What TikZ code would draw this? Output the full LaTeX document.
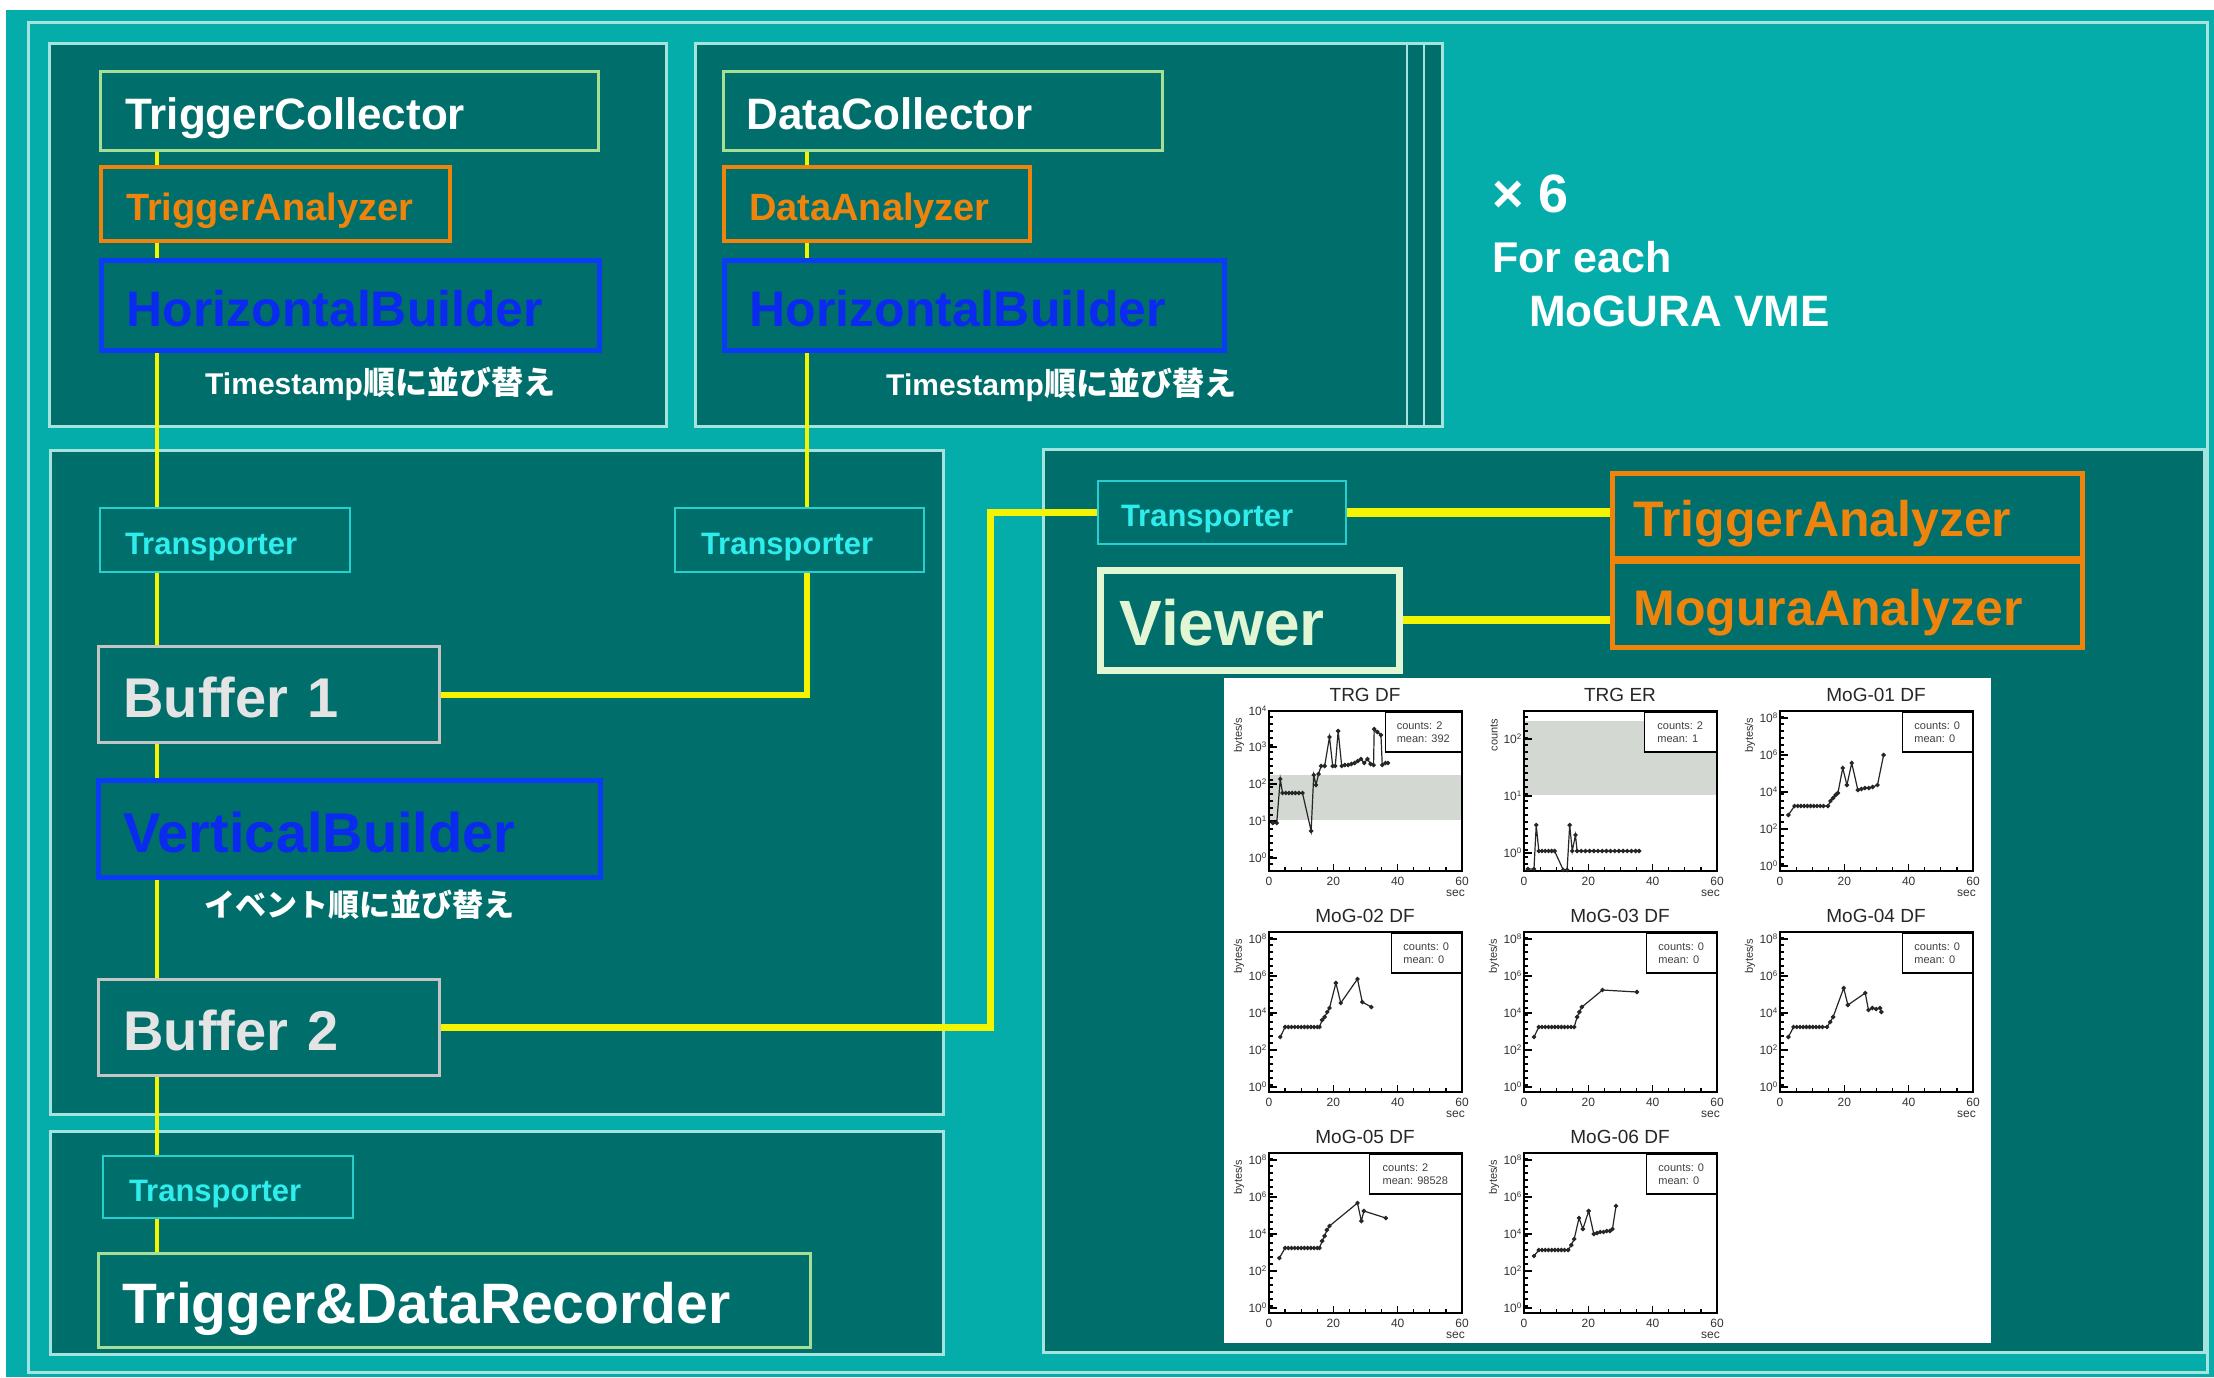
\documentclass[tikz,border=0pt]{standalone}
\usepackage{fontspec}
\setmainfont{Liberation Sans}
\newfontfamily\jp{Noto Sans CJK JP}
\pgfdeclarelayer{bg}
\pgfdeclarelayer{lines}
\pgfsetlayers{bg,lines,main}
\definecolor{bgteal}{HTML}{05ADAA}
\definecolor{panel}{HTML}{006F6B}
\definecolor{pborder}{HTML}{A3E4DF}
\definecolor{ylw}{HTML}{F4F400}
\definecolor{orng}{HTML}{EF840C}
\definecolor{blu}{HTML}{0A3CF5}
\definecolor{bluetxt}{HTML}{0A2BEF}
\definecolor{cyn}{HTML}{2FEDEC}
\definecolor{cynb}{HTML}{27CFCF}
\definecolor{gryb}{HTML}{C4C4C4}
\definecolor{grytxt}{HTML}{E4E4E4}
\definecolor{lgreen}{HTML}{A6DE96}
\definecolor{viewc}{HTML}{E2F6D4}
\definecolor{bandc}{HTML}{D3D8D3}
\tikzset{
  bx/.style={anchor=north west, inner ysep=0pt, align=left, fill=panel, text depth=0pt},
  sz/.style n args={3}{minimum width=#1pt, text width=#2pt, minimum height=#3pt},
  collector/.style={bx, draw=lgreen, line width=2.5pt, text=white, font=\bfseries\fontsize{44}{44}\selectfont, text height=37.5pt},
  anasmall/.style={bx, draw=orng, line width=4pt, text=orng, font=\bfseries\fontsize{38}{38}\selectfont, text height=33pt},
  builder/.style={bx, draw=blu, line width=5pt, text=bluetxt, font=\bfseries\fontsize{50}{50}\selectfont, text height=41.8pt},
  transp/.style={bx, draw=cynb, line width=2pt, text=cyn, font=\bfseries\fontsize{31}{31}\selectfont, text height=28pt},
  buf/.style={bx, draw=gryb, line width=3pt, text=grytxt, font=\bfseries\fontsize{56}{56}\selectfont, text height=46pt},
  viewerbox/.style={bx, draw=viewc, line width=7pt, text=viewc, font=\bfseries\fontsize{64}{64}\selectfont, text height=51.8pt},
  anabig/.style={bx, draw=orng, line width=5pt, text=orng, font=\bfseries\fontsize{50}{50}\selectfont, text height=41.8pt},
  pnl/.style={fill=panel, draw=pborder, line width=3pt},
  yline/.style={draw=ylw, line width=#1pt},
  yline/.default=3.5,
  freetext/.style={anchor=base west, inner sep=0pt, text=white},
  pframe/.style={draw=black, line width=2pt},
  ptick/.style={draw=black, line width=1.2pt},
  ptitle/.style={inner sep=0pt, font=\fontsize{19}{19}\selectfont, text=black!85},
  pstat/.style={anchor=north east, draw=black, line width=1.5pt, fill=white, align=left, font=\fontsize{11}{13}\selectfont, minimum height=40pt, inner xsep=4pt, text=black!75},
  ptk/.style={anchor=east, inner sep=0pt, font=\fontsize{12}{12}\selectfont, text=black!80},
  pxl/.style={anchor=north, inner sep=0pt, font=\fontsize{12}{12}\selectfont, text=black!80},
  pyl/.style={rotate=90, inner sep=0pt, font=\fontsize{11}{11}\selectfont, text=black!80},
  pcurve/.style={draw=black!85, line width=1.2pt},
  pband/.style={fill=bandc},
}
% #1 id, #2 left, #3 top, #4 title, #5 y name, #6 stats, #7 stat width, #8 ticks v/exp
\newcommand\myplot[8]{%
  \draw[pframe] (#2,#3) rectangle ++(193,160);
  \node[ptitle] (#1t) at (#2+96,#3-16) {#4};
  \node[pstat, minimum width=#7pt] (#1s) at (#2+193,#3) {#6};
  \node[pyl] (#1yl) at (#2-30,#3+24) {#5};
  \foreach \vv/\ee [count=\ii] in {#8} {
    \draw[ptick] (#2,#3+160-\vv) -- ++(8,0);
    \node[ptk] (#1y\ii) at (#2-2,#3+160-\vv) {10\textsuperscript{\ee}};
  }
  \foreach \kk in {1,...,22} \draw[ptick] (#2,#3+160-\kk*7) -- ++(4,0);
  \foreach \xx in {0,20,40,60} {
    \draw[ptick] (#2+\xx*3.2167,#3+160) -- ++(0,-7);
    \node[pxl] (#1x\xx) at (#2+\xx*3.2167,#3+166) {\xx};
  }
  \foreach \xx in {5,10,...,55} \draw[ptick] (#2+\xx*3.2167,#3+160) -- ++(0,-4);
  \node[pxl, anchor=north east] (#1sec) at (#2+196,#3+179) {sec};
}
\newcommand\mycurve[3]{%
  \begin{scope}[shift={(#1,#2)}]\begin{scope}[x=3.2167pt,y=1pt]
    \draw[pcurve] plot[mark=*, mark size=1.6pt, mark options={fill=black!85}] coordinates {#3};
  \end{scope}\end{scope}}
\newcommand\myband[4]{%
  \begin{scope}[shift={(#1,#2)}]\begin{scope}[x=3.2167pt,y=1pt]
    \fill[pband] (0,#3) rectangle (60,#4);
  \end{scope}\end{scope}}
\begin{document}
\begin{tikzpicture}[x=1pt,y=-1pt]
\useasboundingbox (0,0) rectangle (2214,1377);
\begin{pgfonlayer}{bg}
  \fill[white] (0,0) rectangle (2214,1377);
  \fill[bgteal] (6,10) rectangle (2214,1377);
  \draw[pnl] (49,43) rectangle (666,426);
  \draw[pnl] (695,43) rectangle (1442,426);
  \draw[draw=pborder, line width=2pt] (1407,43) -- (1407,426);
  \draw[draw=pborder, line width=2pt] (1424,43) -- (1424,426);
  \draw[pnl] (50,450) rectangle (943,1114);
  \draw[pnl] (50,1131) rectangle (943,1354);
  \draw[pnl] (1043,449) rectangle (2204,1352);
  \draw[draw=pborder, line width=3pt] (28,22) rectangle (2207,1372);
\end{pgfonlayer}

% left column
\node[collector, sz={498}{448}{79}, inner xsep=25pt] (tc) at (99,70) {TriggerCollector};
\node[anasmall, sz={349}{299}{74}, inner xsep=25pt] (ta1) at (99,165) {TriggerAnalyzer};
\node[builder, sz={498}{448}{90}, inner xsep=25pt] (hb1) at (99,258) {HorizontalBuilder};
\node[freetext, font=\bfseries\fontsize{30}{30}\selectfont] (ts1) at (205,394) {Timestamp{\jp\fontsize{32}{32}\selectfont 順に並び替え}};
% data column
\node[collector, sz={439}{393}{79}, inner xsep=23pt] (dc) at (722,70) {DataCollector};
\node[anasmall, sz={306}{256}{74}, inner xsep=25pt] (da) at (722,165) {DataAnalyzer};
\node[builder, sz={500}{450}{90}, inner xsep=25pt] (hb2) at (722,258) {HorizontalBuilder};
\node[freetext, font=\bfseries\fontsize{30}{30}\selectfont] (ts2) at (886,395) {Timestamp{\jp\fontsize{32}{32}\selectfont 順に並び替え}};
% x6
\node[freetext, font=\bfseries\fontsize{54}{54}\selectfont] (x6) at (1492,212) {× 6};
\node[freetext, font=\bfseries\fontsize{43}{43}\selectfont] (fe) at (1492,272) {For each};
\node[freetext, font=\bfseries\fontsize{44}{44}\selectfont] (mv) at (1529,326) {MoGURA VME};
% middle panel
\node[transp, sz={250}{200}{64}, inner xsep=25pt] (tr1) at (99,507) {Transporter};
\node[transp, sz={249}{197}{64}, inner xsep=26pt] (tr2) at (674,507) {Transporter};
\node[buf, sz={341}{291}{96}, inner xsep=25pt] (b1) at (97,645) {Buffer 1};
\node[builder, sz={502}{452}{97}, inner xsep=25pt, font=\bfseries\fontsize{56}{56}\selectfont, text height=46pt] (vb) at (96,778) {VerticalBuilder};
\node[freetext, font=\jp\bfseries\fontsize{31}{31}\selectfont] (ev) at (204,916) {イベント順に並び替え};
\node[buf, sz={341}{291}{96}, inner xsep=25pt] (b2) at (97,978) {Buffer 2};
% bottom panel
\node[transp, sz={250}{198}{62}, inner xsep=26pt] (tr3) at (102,1155) {Transporter};
\node[collector, sz={712}{664}{94}, inner xsep=24pt, font=\bfseries\fontsize{57}{57}\selectfont, text height=46.8pt] (rec) at (97,1252) {Trigger\&DataRecorder};
% viewer panel
\node[transp, sz={248}{202}{63}, inner xsep=23pt] (tr4) at (1097,480) {Transporter};
\node[viewerbox, sz={299}{260}{100}, inner xsep=19.5pt] (vw) at (1096.5,566.5) {Viewer};
\node[anabig, sz={470}{428}{85}, inner xsep=21pt] (ta2) at (1610,471) {TriggerAnalyzer};
\node[anabig, sz={470}{428}{86}, inner xsep=21pt] (mog) at (1610,559) {MoguraAnalyzer};

% connectors
\coordinate (lx) at (157,0);
\coordinate (rx) at (807,0);
\coordinate (mx) at (990,0);
\begin{pgfonlayer}{lines}
  \draw[yline] (tc.south -| lx) -- (ta1.north -| lx);
  \draw[yline] (ta1.south -| lx) -- (hb1.north -| lx);
  \draw[yline] (hb1.south -| lx) -- (tr1.north -| lx);
  \draw[yline] (tr1.south -| lx) -- (b1.north -| lx);
  \draw[yline] (b1.south -| lx) -- (vb.north -| lx);
  \draw[yline] (vb.south -| lx) -- (b2.north -| lx);
  \draw[yline] (b2.south -| lx) -- (tr3.north -| lx);
  \draw[yline] (tr3.south -| lx) -- (rec.north -| lx);
  \draw[yline] (dc.south -| rx) -- (da.north -| rx);
  \draw[yline] (da.south -| rx) -- (hb2.north -| rx);
  \draw[yline=4] (hb2.south -| rx) -- (tr2.north -| rx);
  \draw[yline=6] (tr2.south -| rx) -- (rx |- b1.east) -- (b1.east);
  \draw[yline=7] (b2.east) -- (mx |- b2.east) -- (mx |- tr4.west) -- (tr4.west);
  \draw[yline=9] (tr4.east) -- (tr4.east -| ta2.west);
  \draw[yline=8] (vw.east) -- (vw.east -| mog.west);
\end{pgfonlayer}

% plots panel
\fill[white] (1224,678) rectangle (1991,1343);
% TRG DF
\myband{1269}{871}{51}{96}
\myplot{p1}{1269}{711}{TRG DF}{bytes/s}{counts: 2\\mean: 392}{76}{13/0,50/1,87/2,124/3,160/4}
\mycurve{1269}{871}{(1.2,48) (2.4,48) (3.5,92) (4.2,78) (5.2,78) (6.2,78) (7.2,78) (8.2,78) (9.3,78) (10.4,78) (13.1,40) (13.9,96) (14.6,86) (15.4,97) (16.2,105) (17.3,105) (18.8,134) (19.8,105) (20.6,105) (21.5,140) (22.6,105) (23.6,106) (24.6,106) (25.6,107) (26.6,108) (27.6,110) (28.6,112) (29.6,108) (30.6,112) (31.6,107) (32.5,106) (32.7,142) (33.7,139) (34.8,136) (35.2,106) (36.2,108) (37,108)}
% TRG ER
\myband{1524}{871}{76}{150}
\myplot{p2}{1524}{711}{TRG ER}{counts}{counts: 2\\mean: 1}{72}{18/0,75/1,132/2}
\mycurve{1524}{871}{(1.2,2) (3.1,2) (3.8,46) (4.6,20) (5.6,20) (6.6,20) (7.6,20) (8.6,20) (9.5,20) (12.2,1) (13.4,1) (14.2,46) (15,20) (16,36) (16.5,20) (17.8,20) (19.1,20) (20.4,20) (21.7,20) (23,20) (24.3,20) (25.6,20) (26.9,20) (28.2,20) (29.5,20) (30.8,20) (32.1,20) (33.4,20) (34.7,20) (35.8,20)}
% MoG-01
\myplot{p3}{1780}{711}{MoG-01 DF}{bytes/s}{counts: 0\\mean: 0}{70}{5/0,42/2,79/4,116/6,153/8}
\mycurve{1780}{871}{(2.6,56) (4.5,65) (5.5,65) (6.5,65) (7.5,65) (8.5,65) (9.5,65) (10.5,65) (11.5,65) (12.5,65) (13.5,65) (14.9,65) (15.7,70) (16.5,73) (17.3,76) (18,78) (19.5,103) (20.8,86) (22.3,108) (24.2,81) (25.3,82) (26.4,83) (27.6,83) (28.8,84) (30.3,86) (32.2,116)}
% MoG-02
\myplot{p4}{1269}{932}{MoG-02 DF}{bytes/s}{counts: 0\\mean: 0}{70}{5/0,42/2,79/4,116/6,153/8}
\mycurve{1269}{1092}{(3.5,55) (5,65) (6,65) (7,65) (8,65) (9,65) (10,65) (11,65) (12,65) (13,65) (14,65) (15,65) (15.7,65) (16.5,72) (17.3,75) (18.1,80) (18.8,84) (20.8,109) (22.3,89) (27.5,113) (29,90) (31.8,85)}
% MoG-03
\myplot{p5}{1524}{932}{MoG-03 DF}{bytes/s}{counts: 0\\mean: 0}{70}{5/0,42/2,79/4,116/6,153/8}
\mycurve{1524}{1092}{(3.1,55) (4.6,65) (5.6,65) (6.6,65) (7.6,65) (8.6,65) (9.6,65) (10.6,65) (11.6,65) (12.6,65) (13.6,65) (14.6,65) (15.6,65) (16.5,75) (17.2,80) (18,85) (24.4,102) (35.1,100)}
% MoG-04
\myplot{p6}{1780}{932}{MoG-04 DF}{bytes/s}{counts: 0\\mean: 0}{70}{5/0,42/2,79/4,116/6,153/8}
\mycurve{1780}{1092}{(2.6,55) (4.2,65) (5.2,65) (6.2,65) (7.2,65) (8.2,65) (9.2,65) (10.2,65) (11.2,65) (12.2,65) (13.2,65) (14.6,65) (15.6,70) (16.5,75) (19.8,104) (21.1,87) (26.5,99) (27.5,82) (28.7,84) (29.9,83) (31.1,84) (31.5,80)}
% MoG-05
\myplot{p7}{1269}{1153}{MoG-05 DF}{bytes/s}{counts: 2\\mean: 98528}{92}{5/0,42/2,79/4,116/6,153/8}
\mycurve{1269}{1313}{(3.2,55) (5,65) (6,65) (7,65) (8,65) (9,65) (10,65) (11,65) (12,65) (13,65) (14,65) (15,65) (15.7,65) (16.5,72) (17.3,77) (18,83) (18.8,87) (27.5,110) (28.7,92) (29.5,102) (36.3,95)}
% MoG-06
\myplot{p8}{1524}{1153}{MoG-06 DF}{bytes/s}{counts: 0\\mean: 0}{70}{5/0,42/2,79/4,116/6,153/8}
\mycurve{1524}{1313}{(3.1,57) (4.6,63) (5.6,63) (6.6,63) (7.6,63) (8.6,63) (9.6,63) (10.6,63) (11.6,63) (12.6,63) (13.7,63) (14.7,68) (15.6,74) (17.1,95) (18.3,84) (20.1,102) (21.7,79) (22.7,80) (23.7,81) (24.7,81) (25.7,82) (26.7,82) (27.5,84) (28.6,107)}
\end{tikzpicture}
\end{document}
